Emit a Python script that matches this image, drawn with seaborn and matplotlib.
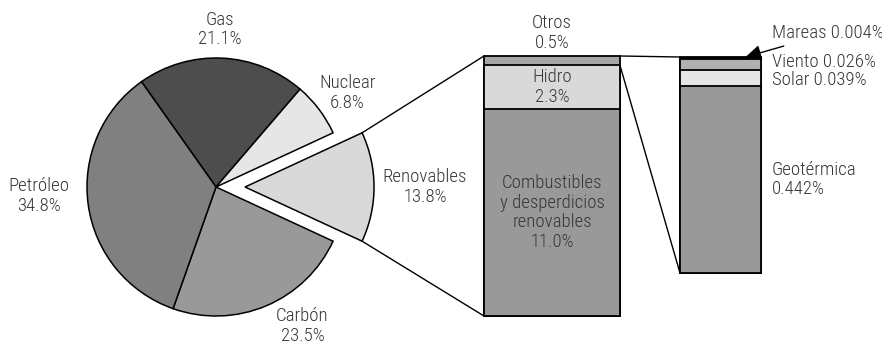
import numpy as np
import matplotlib
matplotlib.use("Agg")
import matplotlib.pyplot as plt
from matplotlib.patches import ConnectionPatch
import seaborn as sns

# Primary energy supply shares (%)
sources = ["Gas", "Nuclear", "Renovables", "Carbón", "Petróleo"]
shares = [21.1, 6.8, 13.8, 23.5, 34.8]
source_colors = ["#4d4d4d", "#e6e6e6", "#d9d9d9", "#999999", "#808080"]

# Breakdown of renewables (%), bottom to top
ren_names = ["Combustibles\ny desperdicios\nrenovables", "Hidro", "Otros"]
ren_shares = [11.0, 2.3, 0.5]
ren_colors = ["#999999", "#d9d9d9", "#a6a6a6"]

# Breakdown of "Otros" (%), bottom to top
otros_names = ["Geotérmica", "Solar", "Viento", "Mareas"]
otros_shares = [0.442, 0.039, 0.026, 0.004]
otros_labels = ["0.442%", "0.039%", "0.026%", "0.004%"]
otros_colors = ["#999999", "#e6e6e6", "#b0b0b0", "#000000"]

sns.set_style("white")
plt.rcParams["font.family"] = ["Roboto Condensed", "DejaVu Sans"]
TXT = dict(fontsize=13.5, color="#363636", linespacing=1.12, weight="light")

W, H = 882, 344
fig = plt.figure(figsize=(W / 100, H / 100), dpi=100)


def px_axes(x0, y0, x1, y1):
    return fig.add_axes([x0 / W, 1 - y1 / H, (x1 - x0) / W, (y1 - y0) / H])


# ---- pie ----
R = 129.0
cx, cy = 216.0, 187.0
ax_pie = fig.add_axes([0, 0, 2 * cx / W, 1])
ren_idx = sources.index("Renovables")
start = 360 * (sum(shares[:ren_idx]) + shares[ren_idx] / 2) / 100
explode = [0.225 if s == "Renovables" else 0 for s in sources]
wedges, _ = ax_pie.pie(shares, colors=source_colors, startangle=start,
                       counterclock=False, explode=explode, radius=1,
                       wedgeprops=dict(edgecolor="black", linewidth=1.1))
ax_pie.set_xlim(-cx / R, cx / R)
ax_pie.set_ylim(-(H - cy) / R, cy / R)
ax_pie.set_aspect("auto")
ax_pie.axis("off")

# label anchors in units of pie radius
label_pos = {"Gas": (0.03, 1.22), "Nuclear": (1.02, 0.73),
             "Renovables": (1.62, 0.0), "Carbón": (0.67, -1.075),
             "Petróleo": (-1.37, -0.07)}
for name, val in zip(sources, shares):
    x, y = label_pos[name]
    ax_pie.text(x, y, f"{name}\n{val:.1f}%", ha="center", va="center", **TXT)


def stacked(ax, values, colors):
    cum = np.cumsum(values)
    for c, col in sorted(zip(cum, colors), key=lambda t: -t[0]):
        sns.barplot(x=["a"], y=[c], color=col, saturation=1, width=1,
                    edgecolor="black", linewidth=1.3, ax=ax)
    for p in ax.patches:
        p.set_clip_on(False)
    ax.set_xlim(-0.5, 0.5)
    ax.set_ylim(0, cum[-1])
    ax.axis("off")
    return cum


# ---- renewables bar ----
ax1 = px_axes(484, 56, 620, 316)
cum1 = stacked(ax1, ren_shares, ren_colors)
bottoms1 = cum1 - np.array(ren_shares)
for name, v, b in zip(ren_names, ren_shares, bottoms1):
    if name == "Otros":
        ax1.annotate(f"{name}\n{v:.1f}%", xy=(0, b + v), xytext=(0, 3),
                     textcoords="offset points", ha="center", va="bottom",
                     annotation_clip=False, **TXT)
    else:
        ax1.text(0, b + v / 2, f"{name}\n{v:.1f}%", ha="center", va="center", **TXT)

# ---- "Otros" bar ----
ax2 = px_axes(680, 57, 761, 273)
cum2 = stacked(ax2, otros_shares, otros_colors)
bottoms2 = cum2 - np.array(otros_shares)
nudge = {"Geotérmica": 0, "Solar": -1.5, "Viento": 1.5}
for name, lab, v, b in zip(otros_names, otros_labels, otros_shares, bottoms2):
    if name == "Mareas":
        ax2.annotate(f"{name} {lab}", xy=(0.31, b + v), xytext=(19, 17),
                     textcoords="offset points", ha="left", va="center",
                     annotation_clip=False,
                     arrowprops=dict(arrowstyle="-|>,head_length=0.7,head_width=0.35",
                                     color="black", lw=1, shrinkA=1, shrinkB=0),
                     **TXT)
    else:
        sep = "\n" if name == "Geotérmica" else " "
        ax2.annotate(f"{name}{sep}{lab}", xy=(0.5, b + v / 2),
                     xytext=(8, nudge[name]), textcoords="offset points",
                     ha="left", va="center", annotation_clip=False, **TXT)

# ---- connectors ----
w = wedges[ren_idx]
wx, wy = w.center
for ang, yb in ((w.theta2, cum1[-1]), (w.theta1, 0)):
    pt = (wx + w.r * np.cos(np.radians(ang)), wy + w.r * np.sin(np.radians(ang)))
    fig.add_artist(ConnectionPatch(xyA=pt, coordsA=ax_pie.transData,
                                   xyB=(-0.5, yb), coordsB=ax1.transData,
                                   color="black", lw=1))
fig.add_artist(ConnectionPatch(xyA=(0.5, cum1[-1]), coordsA=ax1.transData,
                               xyB=(-0.5, cum2[-1]), coordsB=ax2.transData,
                               color="black", lw=1))
fig.add_artist(ConnectionPatch(xyA=(0.5, bottoms1[-1]), coordsA=ax1.transData,
                               xyB=(-0.5, 0), coordsB=ax2.transData,
                               color="black", lw=1))

fig.savefig("out.png", dpi=100)
